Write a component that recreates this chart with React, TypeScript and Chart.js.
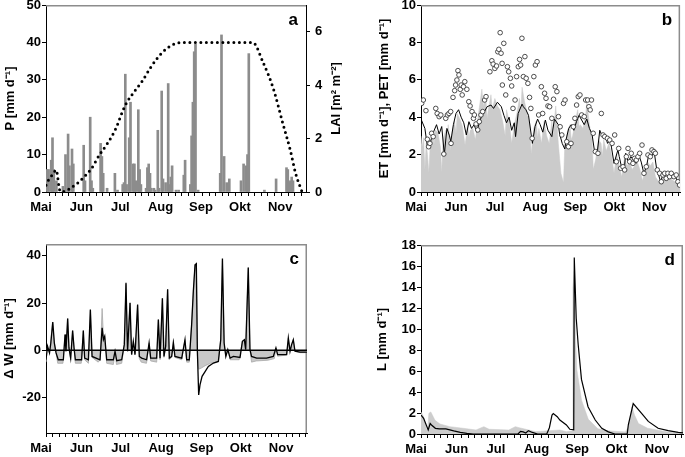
import React, { useEffect, useRef } from 'react';
import { Chart, registerables } from 'chart.js';
Chart.register(...registerables);

const FONT = "'Liberation Sans', Arial, Helvetica, sans-serif";

// x axis: days since 1 May
const monthLabels = ['Mai', 'Jun', 'Jul', 'Aug', 'Sep', 'Okt', 'Nov'];
const monthStarts = [0, 31, 61, 92, 123, 153, 184];
const xMax = 200;

type Pt = [number, number];

// Panel a: precipitation P [mm/d] (day, value) and LAI
const rainP: Pt[] = [
  [1, 6], [2, 6], [4, 8.5], [5, 14.5], [6, 6], [8, 3], [13, 1.5], [15, 10], [17, 15.5], [18, 7],
  [20, 11.5], [21, 7.5], [29, 12.5], [30, 3], [34, 20], [35, 3], [36, 1], [42, 13], [43, 9.5], [44, 5],
  [47, 1], [53, 5], [55, 0.5], [59, 2], [60, 2.5], [61, 31.5], [62, 2], [64, 14.5], [65, 24], [67, 7.5],
  [68, 7.5], [69, 3], [71, 22], [72, 6], [73, 2], [77, 1], [78, 6.5], [79, 7.5], [80, 5], [81, 1],
  [83, 1], [84, 0.5], [86, 16.5], [87, 1], [89, 27], [90, 3.5], [92, 2.5], [94, 29], [95, 2], [96, 4],
  [97, 7], [100, 0.5], [102, 0.5], [106, 4.5], [107, 8.5], [111, 2], [112, 15], [113, 24], [114, 37.5], [115, 39.5],
  [117, 0.5], [134, 5], [135, 42], [137, 9.5], [139, 2.5], [141, 3.5], [150, 3], [152, 7.5], [154, 7], [155, 10],
  [156, 37], [168, 0.5], [177, 3.5], [185, 6.5], [186, 6], [187, 2.5], [188, 3], [189, 4], [190, 3],
];
const laiCurve: Pt[] = [
  [0, 0.25], [2, 0.45], [5, 0.65], [8, 0.82], [9, 0.55], [10, 0.2], [11, 0.02], [14, 0.02], [19, 0.15],
  [25, 0.36], [30, 0.6], [35, 0.88], [41, 1.38], [47, 1.8], [53, 2.3], [61, 3.25], [67, 3.7], [74, 4.15],
  [81, 4.7], [89, 5.2], [97, 5.5], [105, 5.6], [159, 5.6], [167, 4.85], [175, 3.85], [182, 2.6],
  [188, 1.55], [192, 0.7], [197, 0],
];

// Panel b: ET (grey), ET line, PET circles
const etGrey: Pt[] = [
  [0, 3.0], [1, 2.4], [2, 2.9], [3, 1.2], [4, 2.6], [5, 2.0], [6, 1.0], [7, 2.4], [9, 3.2], [10, 2.5], [11, 3.3], [13, 3.2], [15, 2.4],
  [16, 1.0], [17, 2.8], [19, 3.3], [20, 2.6], [21, 3.6], [23, 2.2], [24, 3.2], [26, 3.8], [27, 3.1], [28, 4.2], [30, 3.9], [32, 3.5],
  [34, 2.5], [36, 3.6], [37, 2.9], [38, 3.3], [40, 3.4], [42, 2.8], [44, 4.0], [46, 5.0], [47, 5.5], [48, 4.6], [50, 5.1],
  [51, 3.9], [52, 4.4], [54, 5.2], [55, 4.4], [57, 5.0], [59, 4.6], [61, 4.4], [63, 3.8], [65, 3.0], [66, 4.4], [68, 3.8],
  [70, 2.6], [72, 3.6], [74, 4.2], [76, 5.0], [77, 4.2], [78, 5.6], [80, 4.8], [82, 4.2], [84, 3.6], [85, 2.0], [87, 3.4],
  [89, 3.8], [90, 2.9], [91, 3.4], [93, 2.6], [95, 3.8], [97, 3.0], [99, 2.6], [101, 3.8], [102, 3.0], [104, 4.6], [106, 2.6], [108, 1.0],
  [110, 0.5], [111, 2.5], [113, 3.2], [115, 3.6], [116, 2.8], [117, 3.0], [119, 3.8], [121, 4.4], [122, 3.5], [123, 3.6], [125, 3.4], [127, 4.0],
  [128, 4.8], [130, 3.6], [132, 2.8], [133, 1.2], [135, 1.8], [137, 2.8], [139, 2.6], [140, 1.9], [141, 2.8], [143, 2.2], [145, 2.6],
  [147, 2.0], [149, 1.0], [151, 2.0], [153, 1.4], [155, 0.8], [157, 1.8], [159, 1.4], [161, 1.6], [163, 1.2], [165, 1.4],
  [167, 1.6], [169, 1.2], [171, 0.6], [173, 1.2], [175, 1.6], [177, 1.4], [179, 1.6], [181, 0.8], [183, 0.6], [185, 0.4],
  [187, 0.8], [189, 0.6], [191, 0.8], [193, 0.7], [195, 0.6], [197, 0.5], [200, 0.3],
];
const etLine: Pt[] = [
  [0, 3.9], [3, 3.4], [5, 2.4], [7, 2.6], [9, 3.1], [12, 3.6], [14, 3.1], [16, 3.5], [18, 2.0], [20, 3.4],
  [22, 3.0], [23, 2.7], [25, 3.6], [27, 4.2], [29, 4.4], [31, 4.0], [33, 3.7], [35, 3.05], [37, 3.76], [39, 3.4],
  [41, 3.6], [43, 3.2], [45, 3.7], [47, 4.1], [49, 4.3], [51, 4.56], [54, 4.65], [56, 4.47], [59, 4.8], [62, 4.56],
  [64, 4.1], [66, 3.7], [68, 4.0], [70, 3.3], [72, 3.7], [73, 2.96], [75, 4.2], [78, 4.7], [79, 4.56], [81, 4.4],
  [83, 4.1], [85, 3.1], [86, 2.6], [88, 3.5], [90, 3.9], [92, 3.6], [94, 3.2], [96, 3.85], [98, 3.3], [101, 2.96],
  [103, 3.9], [106, 3.6], [107, 3.1], [109, 2.6], [111, 2.3], [112, 2.8], [114, 3.4], [116, 3.6], [118, 3.3], [120, 3.76],
  [122, 4.1], [124, 3.85], [126, 3.6], [128, 3.9], [130, 3.4], [132, 3.1], [134, 2.15], [136, 2.07], [138, 3.3], [140, 2.96],
  [142, 3.05], [144, 2.6], [146, 2.8], [147, 2.4], [149, 1.53], [152, 2.25], [153, 1.9], [155, 1.27], [157, 1.27], [158, 2.07],
  [160, 1.6], [162, 1.9], [164, 1.7], [166, 1.53], [168, 2.0], [170, 1.6], [172, 1.0], [174, 1.35], [176, 2.07], [178, 1.9],
  [180, 2.15], [182, 1.18], [183, 1.0], [185, 0.55], [187, 1.0], [189, 0.73], [191, 0.9], [193, 0.82], [196, 0.9], [198, 0.55],
  [200, 0.28],
];
const petCircles: Pt[] = [
  [0.5, 4.74], [1.8, 4.92], [3.8, 4.35], [4.9, 2.82], [5.9, 2.42], [6.9, 2.6], [8.2, 3.14], [9.4, 2.96], [11.4, 4.47], [12.5, 4.2],
  [14, 4.03], [15.3, 4.12], [17.6, 2.03], [19.1, 3.94], [20.4, 4.12], [21.6, 4.2], [22.9, 4.3], [23.2, 2.6], [24.7, 5.06], [26, 5.42],
  [26.7, 5.72], [27.7, 5.99], [28.5, 6.49], [29.3, 6.26], [30.3, 5.49], [31, 5.72], [31.8, 5.19], [32.8, 5.63], [33.8, 5.9], [35.4, 5.49],
  [36.9, 4.83], [37.9, 4.6], [39.4, 4.3], [40.5, 3.94], [41.2, 4.12], [42.5, 3.64], [43.8, 3.32], [45, 3.76], [46.3, 4.12], [47.6, 4.3],
  [49.1, 4.92], [50.2, 5.1], [53.2, 6.43], [54.7, 7.02], [55.7, 6.84], [57, 6.61], [58.3, 6.74], [59.3, 7.5], [60.1, 7.63], [61.1, 8.52],
  [61.8, 7.42], [62.6, 6.88], [63.9, 7.95], [62.8, 5.72], [65.4, 5.19], [66.7, 6.7], [67.7, 6.43], [69, 6.08], [70, 5.67], [71, 4.47],
  [72.6, 4.92], [73.8, 6.17], [75.1, 6.7], [76.1, 7.09], [76.9, 6.79], [77.9, 8.22], [79, 6.17], [80.2, 7.24], [81.2, 6.08], [82.5, 5.81],
  [83.8, 5.06], [84.8, 4.47], [85.8, 2.87], [87.1, 6.17], [88.3, 6.79], [89.6, 6.97], [90.8, 4.12], [92.9, 5.63], [93.9, 4.2], [95.4, 5.28],
  [96.5, 5.01], [98, 4.6], [99.3, 4.56], [101, 3.94], [102.3, 4.96], [103.6, 5.63], [104.9, 5.37], [106.1, 4.03], [107.4, 3.49], [108.7, 3.05],
  [110, 4.74], [111.2, 4.92], [112.5, 2.69], [113.8, 2.42], [115.8, 2.6], [117.6, 3.49], [118.8, 3.94], [120.1, 4.65], [121.4, 5.1], [122.7, 5.19],
  [124, 4.12], [126, 4.03], [127.1, 4.92], [128.6, 4.92], [129.6, 4.56], [130.6, 4.39], [131.6, 4.92], [132.9, 3.14], [134.6, 2.16], [136.6, 2.07],
  [139.2, 4.2], [140.5, 3.05], [141.8, 2.96], [143.9, 2.87], [145.7, 2.78], [147.5, 2.6], [149.5, 3.05], [150.8, 1.62], [152.6, 2.33], [154.1, 1.27],
  [155.9, 1.35], [157.2, 1.18], [158.5, 1.89], [159.8, 2.33], [161.1, 1.62], [162.3, 2.07], [163.6, 1.53], [164.9, 1.8], [166.2, 1.71], [167.5, 1.89],
  [168.8, 2.07], [170.6, 2.51], [172.1, 1.0], [173.9, 1.35], [175.2, 1.98], [177, 1.89], [178.3, 2.25], [179.8, 2.16], [180.9, 2.07], [182.4, 1.18],
  [184.2, 1.0], [185.5, 0.55], [186.8, 0.91], [188.1, 1.0], [189.3, 0.73], [190.6, 1.0], [191.9, 0.82], [193.2, 1.0], [195.2, 0.82], [197, 0.91],
  [198.3, 0.55], [199.6, 0.37],
];

// Panel c: storage change dW
const dwGrey: Pt[] = [
  [0, -5], [1, 1], [2.5, -1], [3.5, 3], [5, 12], [6.4, 3], [7.7, -1], [9, -5.5], [13, -5.5], [14.6, 6.7],
  [15.3, -0.4], [16.6, 13.5], [17.6, 1], [18.9, -4], [20.4, 8.4], [21.5, 1], [22.5, -5.5], [27, -5.5], [28.6, 8.4], [29.6, -4],
  [32.5, -5.5], [34, 17], [35.3, -3], [40, -5], [41.5, -4], [43, 17.7], [44, 6], [45, 6], [46.5, -5.5], [51.6, -6],
  [53, -1], [54, -6], [58, -5.5], [60, 2.4], [61.3, 28], [62.5, -0.4], [64.4, 20], [65.6, -2], [67, 3.8], [68.2, -2],
  [70.2, 19], [71.5, -3.5], [73, -5], [77, -5.5], [79, 3.1], [80.2, -4.5], [84.8, -5], [86.1, 13], [87.4, -4], [89.2, 22],
  [90.4, -3], [91.7, 1.7], [93.2, 25.8], [94.5, -4], [96.3, -3], [97.6, 4.5], [98.8, -3], [104, -4], [106.5, 4.5], [107.8, -5],
  [109.8, -5], [111.6, 10.9], [112.9, 25], [114.2, 36], [115.2, 36], [116, -2], [117, -8], [119, -7.5], [122, -6.5], [126, -5.5],
  [130, -5], [132, -4.7], [133.9, 4.5], [135.2, 38], [136.5, 3.1], [137.8, -2.6], [139.3, 0.3], [141.1, -4], [148, -4], [150.5, 3.8],
  [152, 4.5], [153, 0.3], [154.1, 19.4], [155, 35], [156.3, 0.3], [157.5, -5], [161, -4.5], [170, -4.2], [175, -3.5], [176.2, 1],
  [177.5, -2.5], [184.4, -2], [185.7, 5.2], [187, -0.4], [188.2, 2.4], [189.5, 4.5], [190.8, -0.4], [195, -1], [200, -1],
];
const dwLine: Pt[] = [
  [0, -4], [1.2, 1.7], [2.7, -1.1], [3.7, 3.1], [5.2, 12], [6.4, 3], [7.7, -1.1], [9.4, -4], [13.3, -4], [14.6, 6.7],
  [15.3, -0.4], [16.6, 13.5], [17.6, 1], [18.9, -3.3], [20.4, 8.4], [21.5, 1], [22.5, -4], [27.3, -4], [28.6, 8.4], [29.6, -3.3],
  [32.5, -4], [34, 17.3], [35.3, -2.6], [41.4, -4], [43, 9.5], [44, 4.5], [45, 6], [46.5, -4], [51.6, -4], [52.9, -0.4],
  [54.2, -4.4], [58, -4], [60, 2.4], [61.3, 28.6], [62.5, -0.4], [64.4, 20.1], [65.6, -1.8], [66.9, 3.8], [68.2, -1.8], [70.2, 19.4],
  [71.5, -2.6], [73.3, -3.3], [77.1, -4], [79, 3.1], [80.2, -3.3], [84.8, -3.3], [86.1, 13], [87.4, -3.3], [89.2, 22], [90.4, -2.6],
  [91.7, 1.7], [93.2, 25.8], [94.5, -3.3], [96.3, -2.6], [97.6, 3.1], [98.8, -2.6], [104, -3.3], [106.5, 4.5], [107.8, -4], [109.8, -4],
  [111.6, 10.9], [112.9, 25], [114.2, 36.2], [115.2, 36.7], [116, -0.4], [117, -18.9], [118, -14.6], [119.6, -11], [121.9, -9], [124.4, -6.8],
  [128.3, -5.4], [132.1, -4.7], [133.9, 4.5], [135.2, 38.9], [136.5, 3.1], [137.8, -2.6], [139.3, 0.3], [141.1, -3.3], [143.6, -2.6], [148.7, -3],
  [150.5, 3.8], [152, 4.5], [153, 0.3], [154.1, 19.4], [155, 35], [156.3, 0.3], [157.5, -2.6], [161.4, -3.3], [169, -3.3], [174.2, -2.6],
  [176.2, 1], [177.5, -1.8], [184.4, -1.8], [185.7, 5.2], [187, -0.4], [188.2, 2.4], [189.5, 4.5], [190.8, -0.4], [194.6, -0.8], [200, -0.8],
];
const dwZero: Pt[] = [[0, 0], [200, 0]];

// Panel d: leakage L
const lGrey: Pt[] = [
  [0, 2.1], [2, 1.65], [4, 0.54], [5, 0.2], [6, 1.97], [7.5, 2.1], [10.7, 1.3], [14.5, 0.95], [22, 0.7], [32, 0.55],
  [42, 0.38], [46, 0.6], [48, 0.7], [52, 0.45], [67, 0.38], [72, 0.7], [75, 0.6], [80, 0.45], [87.5, 0.22], [98, 0.32],
  [106, 0.38], [111, 0.22], [115.5, 0.3], [116, 14], [117, 15.5], [118, 9], [119, 6.1], [122.6, 3.2], [127.7, 1.4], [135, 0.5],
  [143, 0.3], [156, 0.2], [158, 0.6], [160, 1.8], [161, 2.6], [163, 1.8], [166, 1.0], [173, 0.55], [188, 0.2], [200, 0.1],
];
const lLine: Pt[] = [
  [0, 1.8], [2, 1.5], [4, 0.86], [5.5, 0.38], [7, 1.0], [8, 0.86], [11, 0.54], [14, 0.48], [19, 0.48], [25, 0.29],
  [30, 0.16], [35, 0.06], [40, 0], [74, 0], [76, 0.25], [78, 0.2], [80, 0.1], [82, 0.32], [85, 0.15], [89, 0],
  [96, 0], [98, 0.6], [100, 1.8], [101, 1.95], [104, 1.65], [106, 1.33], [111, 0.86], [113.6, 0.45], [116.6, 0.4], [117, 16.8],
  [118.5, 11], [120, 8.5], [122.5, 5.2], [127.5, 2.6], [133, 1.33], [138, 0.54], [143, 0.2], [148, 0], [157.4, 0], [158.3, 0.9],
  [162, 2.9], [168.4, 1.97], [173.5, 1.2], [181, 0.55], [188.7, 0.32], [196.4, 0.16], [200, 0.1],
];

const xy = (a: Pt[]) => a.map(([x, y]) => ({ x, y }));
const tickFont = { family: FONT, size: 13, weight: 'bold' as const };
const titleFont = { family: FONT, size: 13, weight: 'bold' as const };

const xTickVals: number[] = [];
monthStarts.forEach((m) => [0, 5, 10, 15, 20, 25].forEach((o) => { if (m + o <= xMax) xTickVals.push(m + o); }));

function xAxis(height: number): any {
  return {
    type: 'linear', min: 0, max: xMax, offset: false,
    afterBuildTicks: (s: any) => { s.ticks = xTickVals.map((v) => ({ value: v })); },
    afterFit: (s: any) => { s.height = height; s.paddingLeft = 0; s.paddingRight = 0; },
    ticks: {
      autoSkip: false, maxRotation: 0, minRotation: 0, padding: 4, labelOffset: -5, color: '#000', font: tickFont,
      callback: (v: number) => { const i = monthStarts.indexOf(v); return i >= 0 ? monthLabels[i] : ''; },
    },
    grid: { display: true, drawOnChartArea: false, drawTicks: true, tickLength: 4, color: '#000', lineWidth: 1 },
    border: { display: true, color: '#000', width: 1 },
  };
}

function yAxis(o: { min: number; max: number; ticks: number[]; width: number; title: string; titlePad: number; position?: string; padding?: number; showTitle?: boolean }): any {
  return {
    type: 'linear', position: o.position || 'left', min: o.min, max: o.max,
    afterBuildTicks: (s: any) => { s.ticks = o.ticks.map((v) => ({ value: v })); },
    afterFit: (s: any) => { s.width = o.width; s.paddingTop = 0; s.paddingBottom = 0; },
    ticks: { padding: o.padding ?? 1, color: '#000', font: tickFont },
    grid: { display: true, drawOnChartArea: false, drawTicks: true, tickLength: 4, color: '#000', lineWidth: 1 },
    border: { display: true, color: '#000', width: 1 },
    title: { display: o.showTitle !== false, text: o.title, color: '#000', font: titleFont, padding: { top: o.titlePad, bottom: 0 } },
  };
}

const framePlugin = (letter: string, skipRight: boolean, rightTitle?: string) => ({
  id: 'frame_' + letter,
  beforeDatasetsDraw(chart: any) {
    const { ctx, chartArea: a } = chart;
    ctx.save();
    ctx.strokeStyle = '#8c8c8c';
    ctx.lineWidth = 1.5;
    ctx.beginPath();
    ctx.moveTo(a.left, a.top + 0.75);
    ctx.lineTo(a.right, a.top + 0.75);
    if (!skipRight) {
      ctx.moveTo(a.right - 0.75, a.top);
      ctx.lineTo(a.right - 0.75, a.bottom);
    }
    ctx.stroke();
    ctx.restore();
  },
  afterDatasetsDraw(chart: any) {
    const { ctx, chartArea: a } = chart;
    ctx.save();
    ctx.fillStyle = '#000';
    ctx.font = `bold 17px ${FONT}`;
    ctx.textAlign = 'right';
    ctx.textBaseline = 'middle';
    ctx.fillText(letter, a.right - 8, a.top + 15);
    if (rightTitle) {
      ctx.font = `bold 13px ${FONT}`;
      ctx.textAlign = 'center';
      ctx.translate(chart.width - 6, (a.top + a.bottom) / 2);
      ctx.rotate(-Math.PI / 2);
      ctx.fillText(rightTitle, 0, 0);
    }
    ctx.restore();
  },
});

const baseOptions = (padding: any) => ({
  responsive: false,
  animation: false,
  maintainAspectRatio: false,
  layout: { padding },
  plugins: { legend: { display: false }, tooltip: { enabled: false } },
});

function buildA(): any {
  return {
    type: 'bar',
    data: {
      datasets: [
        {
          type: 'line', data: xy(laiCurve), yAxisID: 'y1', borderColor: '#000', borderWidth: 3,
          borderDash: [0, 5.5], borderCapStyle: 'round', pointRadius: 0, fill: false,
          cubicInterpolationMode: 'monotone', order: 1,
        },
        { type: 'bar', data: xy(rainP), yAxisID: 'y', backgroundColor: '#8c8c8c', barThickness: 2, order: 2 },
      ],
    },
    options: {
      ...baseOptions({ top: 5, left: 0, right: 0, bottom: 0 }),
      scales: {
        x: xAxis(26),
        y: yAxis({ min: 0, max: 50, ticks: [0, 10, 20, 30, 40, 50], width: 46, title: 'P [mm d⁻¹]', titlePad: 3 }),
        y1: yAxis({ min: 0, max: 7, ticks: [0, 2, 4, 6], width: 36, title: '', titlePad: 0, position: 'right', padding: 5, showTitle: false }),
      },
    },
    plugins: [framePlugin('a', true, 'LAI [m² m⁻²]')],
  };
}

function buildB(): any {
  return {
    type: 'line',
    data: {
      datasets: [
        {
          data: xy(petCircles), showLine: false, pointRadius: 2.3, pointBorderWidth: 0.9,
          pointBorderColor: '#3a3a3a', pointBackgroundColor: '#ffffff', order: 1,
        },
        { data: xy(etLine), borderColor: '#000', borderWidth: 1, pointRadius: 0, fill: false, order: 2 },
        { data: xy(etGrey), borderColor: '#c8c8c8', borderWidth: 0.5, backgroundColor: '#cbcbcb', pointRadius: 0, fill: 'origin', order: 3 },
      ],
    },
    options: {
      ...baseOptions({ top: 5, left: 0, right: 2, bottom: 0 }),
      scales: {
        x: xAxis(26),
        y: yAxis({ min: 0, max: 10, ticks: [0, 2, 4, 6, 8, 10], width: 79, title: 'ET [mm d⁻¹], PET [mm d⁻¹]', titlePad: 35 }),
      },
    },
    plugins: [framePlugin('b', false)],
  };
}

function buildC(): any {
  return {
    type: 'line',
    data: {
      datasets: [
        { data: xy(dwZero), borderColor: '#000', borderWidth: 1.6, pointRadius: 0, fill: false, order: 0 },
        { data: xy(dwLine), borderColor: '#000', borderWidth: 1.3, pointRadius: 0, fill: false, order: 1 },
        { data: xy(dwGrey), borderColor: '#a8a8a8', borderWidth: 0.8, backgroundColor: '#c8c8c8', pointRadius: 0, fill: 'origin', order: 2 },
      ],
    },
    options: {
      ...baseOptions({ top: 19, left: 0, right: 35, bottom: 0 }),
      scales: {
        x: xAxis(24),
        y: yAxis({ min: -35, max: 45, ticks: [-20, 0, 20, 40], width: 46, title: 'Δ W [mm d⁻¹]', titlePad: 2 }),
      },
    },
    plugins: [framePlugin('c', false)],
  };
}

function buildD(): any {
  return {
    type: 'line',
    data: {
      datasets: [
        { data: xy(lLine), borderColor: '#000', borderWidth: 1.2, pointRadius: 0, fill: false, order: 1 },
        { data: xy(lGrey), borderColor: '#c8c8c8', borderWidth: 0.5, backgroundColor: '#cdcdcd', pointRadius: 0, fill: 'origin', order: 2 },
      ],
    },
    options: {
      ...baseOptions({ top: 20, left: 0, right: 2, bottom: 0 }),
      scales: {
        x: xAxis(23),
        y: yAxis({ min: 0, max: 18, ticks: [0, 2, 4, 6, 8, 10, 12, 14, 16, 18], width: 79, title: 'L [mm d⁻¹]', titlePad: 33 }),
      },
    },
    plugins: [framePlugin('d', false)],
  };
}

function Panel(props: { left: number; top: number; width: number; height: number; build: () => any }) {
  const ref = useRef<HTMLCanvasElement>(null);
  useEffect(() => {
    const chart = new Chart(ref.current as HTMLCanvasElement, props.build());
    return () => chart.destroy();
  }, []);
  return (
    <canvas
      ref={ref}
      width={props.width}
      height={props.height}
      style={{ position: 'absolute', left: props.left, top: props.top, width: props.width, height: props.height }}
    />
  );
}

export default function App() {
  return (
    <div style={{ position: 'absolute', left: 0, top: 0, width: 685, height: 457, background: '#fff', overflow: 'hidden' }}>
      <Panel left={0} top={0} width={342} height={218} build={buildA} />
      <Panel left={342} top={0} width={343} height={218} build={buildB} />
      <Panel left={0} top={225} width={342} height={232} build={buildC} />
      <Panel left={342} top={225} width={343} height={232} build={buildD} />
    </div>
  );
}
